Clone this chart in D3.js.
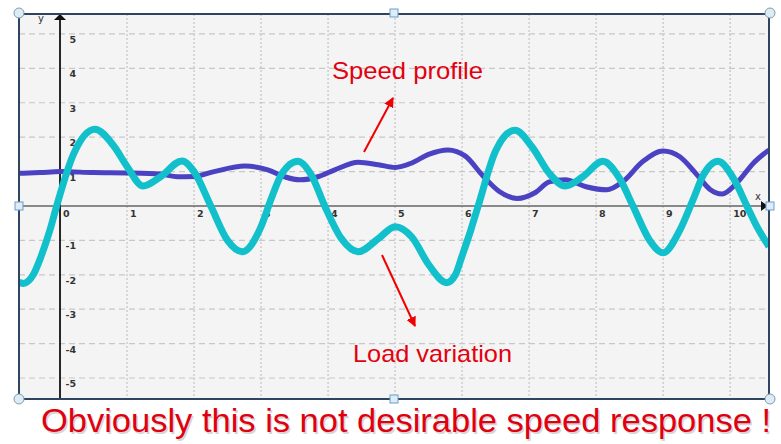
<!DOCTYPE html>
<html>
<head>
<meta charset="utf-8">
<script src="https://cdn.jsdelivr.net/npm/d3@7"></script>
<style>
  body { margin: 0; background: #fff; }
  svg { display: block; }
</style>
</head>
<body>
<div id="chart"></div>
<script>
// Load variation (cyan)
const loadX = [-0.61, -0.55, -0.4, -0.28, -0.15, -0.05, 0.2, 0.52, 0.8, 1.0, 1.24, 1.5, 1.82, 2.0, 2.25, 2.5, 2.72, 3.0, 3.15, 3.3, 3.55, 3.75, 3.95, 4.2, 4.45, 4.75, 5.0, 5.25, 5.5, 5.77, 5.9, 6.0, 6.13, 6.24, 6.5, 6.79, 7.05, 7.3, 7.54, 7.8, 8.1, 8.35, 8.55, 8.8, 9.0, 9.25, 9.45, 9.6, 9.82, 10.05, 10.25, 10.4, 10.58];
const loadY = [-2.22, -2.25, -2.0, -1.45, -0.7, 0, 1.5, 2.23, 1.75, 1.15, 0.58, 0.85, 1.31, 1.0, 0, -1.0, -1.33, -0.6, 0.2, 0.9, 1.3, 0.9, 0, -0.95, -1.33, -0.95, -0.6, -0.9, -1.7, -2.23, -2.0, -1.45, -0.7, 0, 1.6, 2.2, 1.7, 0.95, 0.58, 0.85, 1.3, 0.8, 0, -1.0, -1.36, -0.7, 0.2, 0.9, 1.3, 0.8, 0, -0.6, -1.18];

// Speed profile (blue)
const speedX = [-0.61, -0.3, 0, 0.5, 1.0, 1.5, 1.75, 2.0, 2.3, 2.76, 3.1, 3.35, 3.58, 3.85, 4.1, 4.45, 4.75, 5.0, 5.25, 5.5, 5.79, 6.05, 6.3, 6.55, 6.82, 7.1, 7.3, 7.54, 7.85, 8.16, 8.4, 8.7, 9.0, 9.25, 9.5, 9.7, 9.88, 10.1, 10.35, 10.58];
const speedY = [0.95, 0.97, 1.0, 0.97, 0.96, 0.93, 0.85, 0.86, 1.0, 1.16, 1.05, 0.85, 0.76, 0.85, 1.05, 1.27, 1.2, 1.12, 1.25, 1.5, 1.63, 1.45, 0.9, 0.43, 0.22, 0.4, 0.7, 0.76, 0.56, 0.47, 0.71, 1.3, 1.6, 1.43, 0.92, 0.48, 0.35, 0.67, 1.25, 1.63];

const xTicks = [0, 1, 2, 3, 4, 5, 6, 7, 8, 9, 10];
const yTicks = [-5, -4, -3, -2, -1, 1, 2, 3, 4, 5];
const xDomain = [-0.612, 10.58];
const yDomain = [-5.61, 5.58];

const W = 781, H = 444;
const box = { left: 19, right: 769, top: 14, bottom: 399 };

const svg = d3.select("#chart").append("svg")
  .attr("width", W).attr("height", H);

const x = d3.scaleLinear().domain(xDomain).range([box.left, box.right]);
const y = d3.scaleLinear().domain(yDomain).range([box.bottom, box.top]);

svg.append("defs").append("clipPath").attr("id", "plotClip")
  .append("rect")
  .attr("x", box.left).attr("y", box.top)
  .attr("width", box.right - box.left).attr("height", box.bottom - box.top);

// plot background
svg.append("rect")
  .attr("x", box.left).attr("y", box.top)
  .attr("width", box.right - box.left).attr("height", box.bottom - box.top)
  .attr("fill", "#f4f4f4");

// grid
const grid = svg.append("g");
grid.selectAll("line.v").data(xTicks.filter(d => d !== 0)).enter().append("line")
  .attr("x1", d => x(d)).attr("x2", d => x(d))
  .attr("y1", box.top).attr("y2", box.bottom)
  .attr("stroke", "#c4c4c4").attr("stroke-width", 1.2)
  .attr("stroke-dasharray", "2,2");
grid.selectAll("line.h").data(yTicks).enter().append("line")
  .attr("x1", box.left).attr("x2", box.right)
  .attr("y1", d => y(d)).attr("y2", d => y(d))
  .attr("stroke", "#c8c8c8").attr("stroke-width", 1.2)
  .attr("stroke-dasharray", "6,4");

// axes
svg.append("line")
  .attr("x1", box.left).attr("x2", box.right - 4)
  .attr("y1", y(0)).attr("y2", y(0))
  .attr("stroke", "#666").attr("stroke-width", 1.5);
svg.append("line")
  .attr("x1", x(0)).attr("x2", x(0))
  .attr("y1", box.bottom).attr("y2", box.top + 4)
  .attr("stroke", "#111").attr("stroke-width", 1.8);
// arrow heads on axes
svg.append("path")
  .attr("d", `M${x(0)},${box.top} l-6,6 l12,0 z`)
  .attr("fill", "#111");
svg.append("path")
  .attr("d", `M${box.right - 1},${y(0)} l-7,-5 l0,10 z`)
  .attr("fill", "#111");
svg.append("text").attr("x", 38).attr("y", 22)
  .attr("font-family", "DejaVu Sans").attr("font-size", 10).attr("fill", "#333").text("y");
svg.append("text").attr("x", 755).attr("y", 200)
  .attr("font-family", "DejaVu Sans").attr("font-size", 10).attr("fill", "#333").text("x");

// tick labels
svg.append("g").selectAll("text").data(xTicks).enter().append("text")
  .attr("x", d => x(d) + 3).attr("y", y(0) + 11)
  .attr("font-family", "DejaVu Sans").attr("font-size", 9.5).attr("font-weight", "bold")
  .attr("fill", "#333").text(d => d);
svg.append("g").selectAll("text").data(yTicks).enter().append("text")
  .attr("x", x(0) + 16).attr("y", d => y(d) + 9)
  .attr("text-anchor", "end")
  .attr("font-family", "DejaVu Sans").attr("font-size", 9.5).attr("font-weight", "bold")
  .attr("fill", "#333").text(d => d);

// curves
const line = d3.line().x(d => x(d[0])).y(d => y(d[1])).curve(d3.curveMonotoneX);
const curves = svg.append("g").attr("clip-path", "url(#plotClip)");
curves.append("path")
  .datum(speedX.map((v, i) => [v, speedY[i]]))
  .attr("d", line)
  .attr("fill", "none").attr("stroke", "#4a42c2").attr("stroke-width", 5);
curves.append("path")
  .datum(loadX.map((v, i) => [v, loadY[i]]))
  .attr("d", line)
  .attr("fill", "none").attr("stroke", "#12c0cb").attr("stroke-width", 7);

// annotations
svg.select("defs").append("marker")
  .attr("id", "arrowRed").attr("viewBox", "0 0 10 10")
  .attr("refX", 9).attr("refY", 5)
  .attr("markerWidth", 5).attr("markerHeight", 5)
  .attr("orient", "auto")
  .append("path").attr("d", "M0,0 L10,5 L0,10 z").attr("fill", "#f00000");

svg.append("line")
  .attr("x1", 364).attr("y1", 152).attr("x2", 393).attr("y2", 98)
  .attr("stroke", "#f00000").attr("stroke-width", 2).attr("marker-end", "url(#arrowRed)");
svg.append("line")
  .attr("x1", 382).attr("y1", 255).attr("x2", 415).attr("y2", 326)
  .attr("stroke", "#f00000").attr("stroke-width", 2).attr("marker-end", "url(#arrowRed)");

svg.append("text").attr("x", 332).attr("y", 79)
  .attr("font-family", "Liberation Sans, Arial, sans-serif").attr("font-size", 24)
  .attr("textLength", 151).attr("lengthAdjust", "spacingAndGlyphs")
  .attr("fill", "#e3000f").text("Speed profile");
svg.append("text").attr("x", 353).attr("y", 362)
  .attr("font-family", "Liberation Sans, Arial, sans-serif").attr("font-size", 24)
  .attr("textLength", 159).attr("lengthAdjust", "spacingAndGlyphs")
  .attr("fill", "#e3000f").text("Load variation");

// frame
svg.append("rect")
  .attr("x", box.left).attr("y", box.top)
  .attr("width", box.right - box.left).attr("height", box.bottom - box.top)
  .attr("fill", "none").attr("stroke", "#2e4461").attr("stroke-width", 2);

// selection handles
const corners = [[box.left, box.top - 1], [box.right + 1, box.top - 1], [box.left, box.bottom], [box.right + 1, box.bottom]];
const mids = [[394, box.top - 1], [box.left, y(0)], [box.right + 1, y(0)], [394, box.bottom]];
svg.append("g").selectAll("circle").data(corners).enter().append("circle")
  .attr("cx", d => d[0]).attr("cy", d => d[1]).attr("r", 5)
  .attr("fill", "#dcecf2").attr("stroke", "#7f9cb2").attr("stroke-width", 1);
svg.append("g").selectAll("rect").data(mids).enter().append("rect")
  .attr("x", d => d[0] - 4).attr("y", d => d[1] - 4).attr("width", 8).attr("height", 8)
  .attr("fill", "#dcecf8").attr("stroke", "#6e9cc6").attr("stroke-width", 1);

// bottom message
const msg = "Obviously this is not desirable speed response !";
svg.append("text").attr("x", 42.5).attr("y", 433.5)
  .attr("font-family", "Liberation Sans, Arial, sans-serif").attr("font-size", 33)
  .attr("textLength", 730).attr("lengthAdjust", "spacingAndGlyphs")
  .attr("fill", "#bbbbbb").attr("opacity", 0.6).text(msg);
svg.append("text").attr("x", 41).attr("y", 432)
  .attr("font-family", "Liberation Sans, Arial, sans-serif").attr("font-size", 33)
  .attr("textLength", 730).attr("lengthAdjust", "spacingAndGlyphs")
  .attr("fill", "#e0000f").text(msg);
</script>
</body>
</html>
